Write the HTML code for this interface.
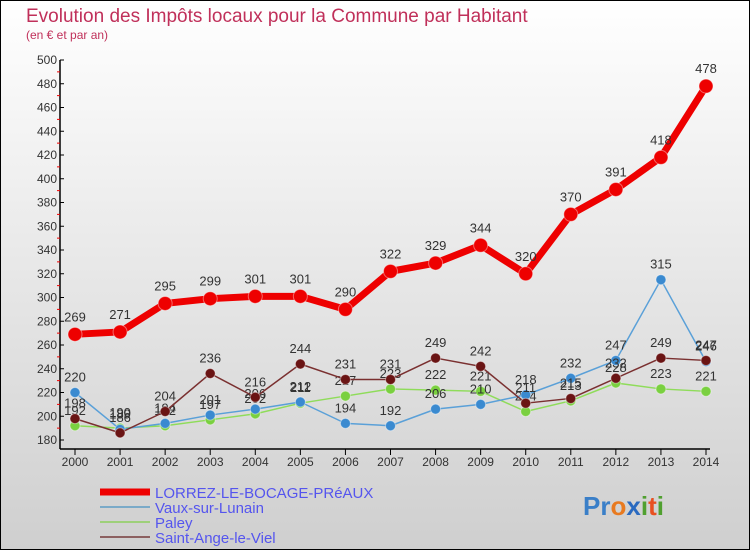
<!DOCTYPE html>
<html><head><meta charset="utf-8"><style>
body{margin:0;padding:0;}
svg{display:block;font-family:"Liberation Sans",sans-serif;}
</style></head><body>
<svg id="c" width="750" height="550" xmlns="http://www.w3.org/2000/svg">
<defs><linearGradient id="bg" x1="0" y1="0" x2="0" y2="1"><stop offset="0" stop-color="#ffffff"/><stop offset="1" stop-color="#cfcfcf"/></linearGradient></defs>
<rect x="0.5" y="0.5" width="749" height="549" fill="url(#bg)" stroke="#000"/>
<text x="26" y="22" font-size="19" fill="#c0305a">Evolution des Impôts locaux pour la Commune par Habitant</text>
<text x="26" y="39" font-size="12" fill="#c0305a">(en € et par an)</text>
<g id="axes"></g><g id="series"></g>
<g>
<line x1="100" y1="492" x2="150" y2="492" stroke="#ee0000" stroke-width="7"/>
<text x="155" y="498" font-size="15" fill="#5555ee">LORREZ-LE-BOCAGE-PRéAUX</text>
<line x1="100" y1="507" x2="150" y2="507" stroke="#7aaac8" stroke-width="2"/>
<text x="155" y="513" font-size="15" fill="#5555ee">Vaux-sur-Lunain</text>
<line x1="100" y1="522" x2="150" y2="522" stroke="#9ed07a" stroke-width="2"/>
<text x="155" y="528" font-size="15" fill="#5555ee">Paley</text>
<line x1="100" y1="537" x2="150" y2="537" stroke="#8c6060" stroke-width="2"/>
<text x="155" y="543" font-size="15" fill="#5555ee">Saint-Ange-le-Viel</text>
</g>
<g font-size="26" font-weight="bold">
<text x="583" y="515"><tspan fill="#3a7fc8">Pr</tspan><tspan fill="#e87a20">o</tspan><tspan fill="#2a6ac0">x</tspan><tspan fill="#50a030">i</tspan><tspan fill="#e85020">t</tspan><tspan fill="#50a030">i</tspan></text>
</g>
</svg>
<script>
const years=[2000,2001,2002,2003,2004,2005,2006,2007,2008,2009,2010,2011,2012,2013,2014];
const lorrez=[269,271,295,299,301,301,290,322,329,344,320,370,391,418,478];
const vaux=[220,189,194,201,206,212,194,192,206,210,218,232,247,315,246];
const paley=[192,190,192,197,202,211,217,223,222,221,204,213,228,223,221];
const saintAnge=[198,186,204,236,216,244,231,231,249,242,211,215,232,249,247];
const yTicks=[180,200,220,240,260,280,300,320,340,360,380,400,420,440,460,480,500];
const NS="http://www.w3.org/2000/svg";
const X=i=>75+i*(706-75)/(years.length-1);
const Y=v=>60+(500-v)*(440-60)/320;
function mk(t,a,p){const e=document.createElementNS(NS,t);for(const k in a)e.setAttribute(k,a[k]);p.appendChild(e);return e;}
const ax=document.getElementById('axes');
let e=mk('line',{x1:60,y1:60,x2:60,y2:449,stroke:'#000','stroke-width':1.5},ax);


e=mk('line',{x1:60,y1:449,x2:710,y2:449,stroke:'#000','stroke-width':1.5},ax);


yTicks.forEach(v=>{
 mk('line',{x1:60,y1:Y(v),x2:64,y2:Y(v),stroke:'#000'},ax);
 if(v<500)mk('line',{x1:57,y1:Y(v+10),x2:60,y2:Y(v+10),stroke:'#e00'},ax);
 const t=mk('text',{x:57,y:Y(v)+4,'font-size':12,'text-anchor':'end',fill:'#333'},ax);t.textContent=v;
 
 
});
years.forEach((y,i)=>{
 mk('line',{x1:X(i),y1:449,x2:X(i),y2:455,stroke:'#000'},ax);
 const t=mk('text',{x:X(i),y:466,'font-size':12,'text-anchor':'middle',fill:'#333'},ax);t.textContent=y;
 
 
});
const sg=document.getElementById('series');
function series(data,name,color,dot,w,r){
 const g=mk('g',{},sg);
 
 
 const p=mk('polyline',{points:data.map((v,i)=>X(i)+','+Y(v)).join(' '),fill:'none',stroke:color,'stroke-width':w,'stroke-linejoin':'round'},g);
 
 
 data.forEach((v,i)=>{
  const c=mk('circle',{cx:X(i),cy:Y(v),r:r,fill:dot,stroke:'#fff','stroke-opacity':0.4,'stroke-width':1},g);
  
  
  const t=mk('text',{x:X(i),y:Y(v)-r-6,'font-size':13,'text-anchor':'middle',fill:'#333'},g);t.textContent=v;
  
  
 });
}
series(paley,'paley','#8fdc5a','#7ad040',1.5,5);
series(vaux,'vaux','#5aa0d8','#3a8ad0',1.5,5);
series(saintAnge,'saint-ange','#7a3030','#6a1414',1.5,5);
series(lorrez,'lorrez','#ee0000','#ee0000',7,7);
</script>
</body></html>
